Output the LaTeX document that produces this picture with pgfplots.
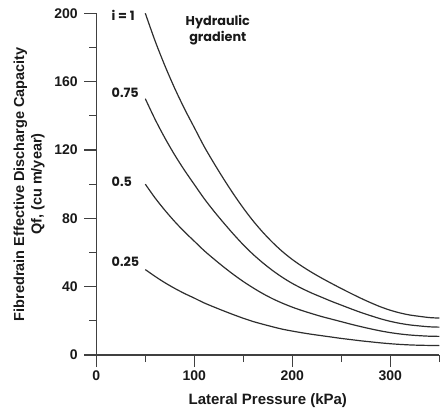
\documentclass[border=0pt]{standalone}
\usepackage{fontspec}
\setmainfont{Liberation Sans}
\newfontfamily\geo{Poppins}
\usepackage{pgfplots}
\pgfplotsset{compat=1.18}
\definecolor{ink}{HTML}{2E2E2E}
\begin{document}
\begin{tikzpicture}
\begin{axis}[name=ax, scale only axis, width=343pt, height=341.7pt,
 xmin=0, xmax=350, ymin=0, ymax=200,
 axis x line=bottom, axis y line=left,
 axis line style={-, line width=1.3pt, color=black!75},
 xtick={0,100,200,300}, minor xtick={50,150,250,350},
 ytick={0,40,...,200}, minor ytick={20,60,...,180},
 tick align=outside, major tick length=12pt, minor tick length=7pt,
 every tick/.style={line width=1.1pt, color=black!75},
 tick label style={font=\fontsize{14}{16}\selectfont\bfseries, text=black!90},
 yticklabel style={xshift=-3pt},
 /pgf/number format/assume math mode=true,
 xlabel={Lateral Pressure (kPa)},
 xlabel style={at={(axis description cs:0.5,-0.1434)}, anchor=base, font=\fontsize{15}{17}\selectfont\bfseries, text=black!90},
 ylabel={Fibredrain Effective Discharge Capacity\\Qf, (cu m/year)},
 ylabel style={at={(axis description cs:-0.14,0.5)}, anchor=south, align=center, font=\fontsize{14.5}{17.5}\selectfont\bfseries, text=black!90},
 clip=false]
\addplot[ink, line width=1.2pt, smooth] coordinates {
(50,200) (60,183.8) (70,169.3) (80,156.1) (90,144.1) (100,133.1) (110,122.1) (120,112.3) (130,103.0) (140,94.2) (150,86.0) (160,78.5) (170,71.8) (180,65.8) (190,60.5) (200,55.9) (210,51.9) (220,48.3) (230,45.0) (240,41.9) (250,38.9) (260,36.0) (270,33.2) (280,30.6) (290,28.2) (300,26.2) (310,24.6) (320,23.4) (330,22.6) (340,21.9) (350,21.6)};
\addplot[ink, line width=1.2pt, smooth] coordinates {
(50,150) (60,137.9) (70,127.0) (80,117.1) (90,108.1) (100,99.8) (110,91.6) (120,84.2) (130,77.3) (140,70.7) (150,64.5) (160,58.9) (170,53.9) (180,49.4) (190,45.4) (200,41.9) (210,38.9) (220,36.2) (230,33.8) (240,31.4) (250,29.2) (260,27.0) (270,24.9) (280,23.0) (290,21.2) (300,19.7) (310,18.5) (320,17.6) (330,17.0) (340,16.5) (350,16.3)};
\addplot[ink, line width=1.2pt, smooth] coordinates {
(50,100) (60,91.9) (70,84.7) (80,78.1) (90,72.1) (100,66.6) (110,61.1) (120,56.2) (130,51.5) (140,47.1) (150,43.0) (160,39.3) (170,35.9) (180,32.9) (190,30.3) (200,28.0) (210,26.0) (220,24.2) (230,22.5) (240,21.0) (250,19.5) (260,18.0) (270,16.6) (280,15.3) (290,14.1) (300,13.1) (310,12.3) (320,11.7) (330,11.3) (340,11.0) (350,10.9)};
\addplot[ink, line width=1.2pt, smooth] coordinates {
(50,50) (60,46.0) (70,42.3) (80,39.0) (90,36.0) (100,33.3) (110,30.5) (120,28.1) (130,25.8) (140,23.6) (150,21.5) (160,19.6) (170,18.0) (180,16.5) (190,15.1) (200,14.0) (210,13.0) (220,12.1) (230,11.3) (240,10.5) (250,9.7) (260,9.0) (270,8.3) (280,7.7) (290,7.1) (300,6.6) (310,6.2) (320,5.9) (330,5.7) (340,5.6) (350,5.5)};
\node[anchor=west, inner sep=0pt, font=\geo\bfseries\fontsize{12.8}{14}\selectfont, text=black!90] at (axis cs:15.5,199) {i = 1};
\node[anchor=west, inner sep=0pt, font=\geo\bfseries\fontsize{12.8}{14}\selectfont, text=black!90] at (axis cs:15.5,153.5) {0.75};
\node[anchor=west, inner sep=0pt, font=\geo\bfseries\fontsize{12.8}{14}\selectfont, text=black!90] at (axis cs:15.5,101.5) {0.5};
\node[anchor=west, inner sep=0pt, font=\geo\bfseries\fontsize{12.8}{14}\selectfont, text=black!90] at (axis cs:15.5,54.5) {0.25};
\node[align=center, inner sep=0pt, font=\geo\bfseries\fontsize{12.8}{16}\selectfont, text=black!90] at (axis cs:124,190) {Hydraulic\\gradient};
\end{axis}
\pgfresetboundingbox
\path[use as bounding box] ([shift={(-96.3pt,-56pt)}]ax.south west) rectangle ([shift={(3.7pt,13.3pt)}]ax.north east);
\end{tikzpicture}
\end{document}
